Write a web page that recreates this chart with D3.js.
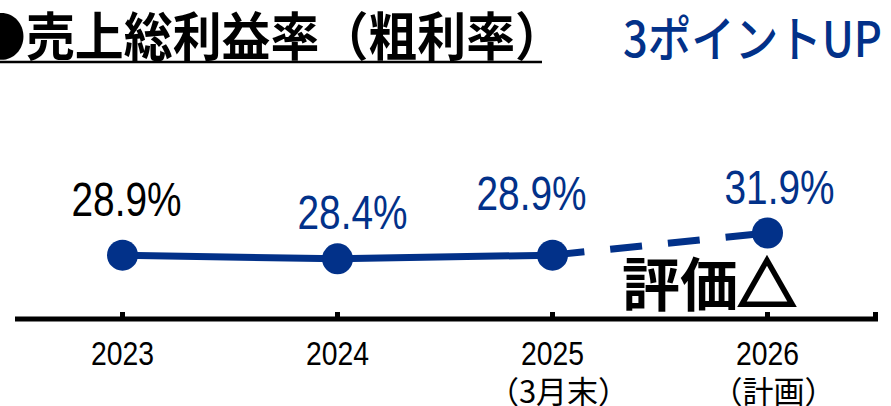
<!DOCTYPE html>
<html>
<head>
<meta charset="utf-8">
<script src="https://cdn.jsdelivr.net/npm/d3@7/dist/d3.min.js"></script>
<style>
  html, body { margin: 0; padding: 0; background: #ffffff; }
  svg { display: block; }
</style>
</head>
<body>
<div id="chart"></div>
<script>
// Gross profit margin by fiscal year (2026 is the plan figure)
const years = ["2023", "2024", "2025", "2026"];
const yearNotes = ["", "", "（3月末）", "（計画）"];
const margins = [28.9, 28.4, 28.9, 31.9];
const marginLabels = ["28.9%", "28.4%", "28.9%", "31.9%"];
const actualCount = 3; // 2023–2025 are results, the last point is the plan

const titleText = "●売上総利益率（粗利率）";
const headlineText = "3ポイントUP";
const ratingWord = "評価";
const ratingMark = "△";

// Layout
const W = 891, H = 406;
const BLUE = "#023189";
const axisY = 319;
const latin = "'Liberation Sans', Arial, 'DejaVu Sans', sans-serif";
const cjk = "'Noto Sans CJK JP', 'Noto Sans CJK SC', sans-serif";

// label offsets from each point: [dx, dy of baseline]
const labelNudge = [[4, -39], [15, -29.5], [-21, -45.5], [12, -28.5]];
const labelFill = ["#000000", BLUE, BLUE, BLUE];

const svg = d3.select("#chart").append("svg")
  .attr("width", W).attr("height", H);

const x = d3.scalePoint().domain(years).range([15, 875]).padding(0.5);
const y = d3.scaleLinear().domain([20, 34]).range([321, 217.4]);

// Title and underline
svg.append("text")
  .attr("x", -23).attr("y", 56)
  .attr("font-family", cjk).attr("font-weight", 700).attr("font-size", 52)
  .attr("textLength", 587).attr("lengthAdjust", "spacingAndGlyphs")
  .attr("fill", "#000").text(titleText);
svg.append("line")
  .attr("x1", 0).attr("x2", 542).attr("y1", 62).attr("y2", 62)
  .attr("stroke", "#000").attr("stroke-width", 2.5);

svg.append("text")
  .attr("x", 623).attr("y", 57)
  .attr("font-family", cjk).attr("font-weight", 500).attr("font-size", 49)
  .attr("textLength", 259).attr("lengthAdjust", "spacingAndGlyphs")
  .attr("fill", BLUE).text(headlineText);

// Axis baseline with ticks at each year and the right end
const axis = svg.append("g");
axis.append("line")
  .attr("x1", 15).attr("x2", 878).attr("y1", axisY).attr("y2", axisY)
  .attr("stroke", "#000").attr("stroke-width", 5);
const tickXs = years.map(d => x(d)).concat([875.5]);
axis.selectAll("rect.tick").data(tickXs).enter().append("rect")
  .attr("class", "tick")
  .attr("x", d => d - 2.5).attr("y", axisY - 7)
  .attr("width", 5).attr("height", 7).attr("fill", "#000");

// Year labels
const yearG = svg.append("g").selectAll("g").data(years).enter().append("g");
yearG.append("text")
  .attr("x", d => x(d)).attr("y", 365)
  .attr("text-anchor", "middle")
  .attr("font-family", latin).attr("font-size", 33)
  .attr("textLength", 63).attr("lengthAdjust", "spacingAndGlyphs")
  .attr("fill", "#000").text(d => d);
yearG.append("text")
  .attr("x", (d, i) => x(d) + 6).attr("y", 403)
  .attr("text-anchor", "middle")
  .attr("font-family", cjk).attr("font-size", 31)
  .attr("fill", "#000").text((d, i) => yearNotes[i]);

// Lines: solid for results, dashed toward the plan
const pts = years.map((d, i) => [x(d), y(margins[i])]);
const line = d3.line();
svg.append("path")
  .attr("d", line(pts.slice(0, actualCount)))
  .attr("fill", "none").attr("stroke", BLUE).attr("stroke-width", 7);
svg.append("path")
  .attr("d", line(pts.slice(actualCount - 1)))
  .attr("fill", "none").attr("stroke", BLUE).attr("stroke-width", 7)
  .attr("stroke-dasharray", "32 26");

svg.append("g").selectAll("circle").data(pts).enter().append("circle")
  .attr("cx", d => d[0]).attr("cy", d => d[1]).attr("r", 15.5)
  .attr("fill", BLUE);

// Value labels
svg.append("g").selectAll("text").data(years).enter().append("text")
  .attr("x", (d, i) => x(d) + labelNudge[i][0])
  .attr("y", (d, i) => y(margins[i]) + labelNudge[i][1])
  .attr("text-anchor", "middle")
  .attr("font-family", latin).attr("font-size", 48)
  .attr("textLength", 110).attr("lengthAdjust", "spacingAndGlyphs")
  .attr("fill", (d, i) => labelFill[i])
  .text((d, i) => marginLabels[i]);

// Rating
const rating = svg.append("text")
  .attr("x", 622).attr("y", 306)
  .attr("font-family", cjk).attr("font-weight", 700).attr("font-size", 58)
  .attr("fill", "#000");
rating.append("tspan").text(ratingWord);
rating.append("tspan")
  .attr("stroke", "#000").attr("stroke-width", 3).attr("stroke-linejoin", "miter")
  .text(ratingMark);
</script>
</body>
</html>
